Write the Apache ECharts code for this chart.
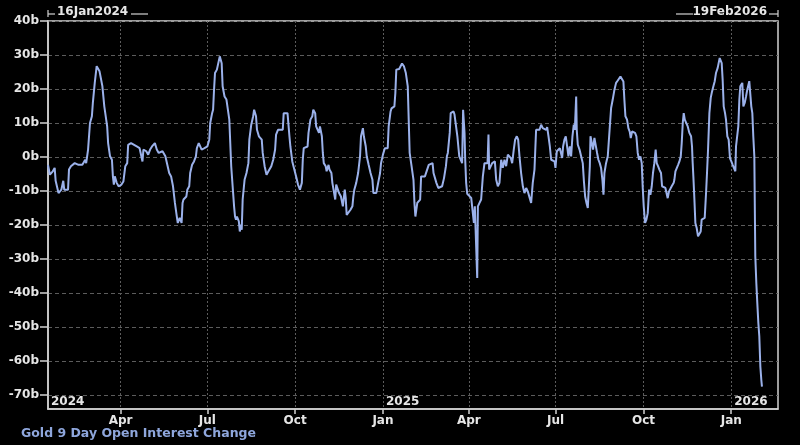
<!DOCTYPE html>
<html>
<head>
<meta charset="utf-8">
<script src="https://cdn.jsdelivr.net/npm/echarts@6/dist/echarts.min.js"></script>
<style>
html,body{margin:0;padding:0;background:#000;}
#c{width:800px;height:445px;}
</style>
</head>
<body>
<div id="c"></div>
<script>
const seriesName = 'Gold 9 Day Open Interest Change';
const startDate = '2024-01-16';
const endDate = '2026-02-19';
const startLabel = '16Jan2024';
const endLabel = '19Feb2026';

// days since 16 Jan 2024
const dayOffsets = [
0,2,5,7,8,11,13,14,16,17,19,21,22,24,28,32,36,39,40,42,44,46,47,49,51,53,54,55,57,59,60,62,63,65,67,68,69,70,72,74,77,79,81,83,84,87,89,93,96,99,100,103,105,107,109,112,114,116,118,120,122,123,125,127,129,
131,133,134,135,136,138,140,141,142,145,146,148,149,151,153,155,156,158,159,161,163,164,167,169,170,172,173,174,175,177,178,180,181,182,183,185,187,189,190,191,192,194,195,196,197,198,200,201,202,203,204,206,208,210,211,213,215,216,218,219,221,224,225,227,229,231,232,234,236,238,239,241,243,246,247,249,251,253,254,256,258,
260,262,264,266,267,268,270,272,273,275,277,278,280,281,282,284,285,287,288,289,291,292,294,295,297,298,300,301,302,303,305,306,307,309,311,312,313,315,317,319,320,321,323,325,327,328,330,331,333,334,336,338,340,341,344,346,348,349,351,353,356,357,359,360,363,364,365,368,370,371,373,375,377,378,379,381,383,384,385,387,388,390,391,393,
395,397,399,401,403,404,405,407,409,411,413,415,417,418,419,421,422,424,425,426,428,429,430,431,432,434,435,435.8,436.5,437.2,438.2,439.3,441,443.5,445.2,446.3,447.3,448.7,449.8,450.5,452.2,453.9,455.7,457.4,459.2,460.6,461.6,462.3,463.7,465.5,468.3,469.7,471.4,473.1,474.9,476.6,478.4,480.1,481.9,483.6,485,486.4,488.1,489.5,491.3,492.7,494.1,495.8,497.6,499.3,501.1,502.8,504.5,506.3,508,509.8,511.5,513.3,515,516.8,518.5,520.2,522,523.1,
524.5,525.9,527.3,529,530.8,531.8,533.2,535,536.4,537.7,538.8,539.8,541.2,542.6,544,545.4,546.8,548.2,549.6,551,552.1,553.5,554.1,555.2,557,558.7,560.4,561.5,562.9,564.3,565.7,566.7,567.8,568.5,569.8,571.2,572.6,574,575.4,576.8,578.2,579.6,581,582.1,583.1,584.8,586.6,588.3,590.1,591.8,593.6,595.3,597.1,598.8,599.9,601.6,603,604,605.1,606.8,608.2,609.6,610.7,612.1,613.8,615.2,616.6,618,619.4,620.8,622.2,623.2,624.3,625.7,627.1,628.5,629.9,631.3,632.7,634,635.4,636.8,637.9,639.3,640.7,642.4,643.5,645.2,647,648.4,649.4,650.8,652.2,653.6,655.7,
656.4,657.5,658.9,660.3,661.7,663.1,664.1,665.2,666.2,667.3,668.7,670.4,672.1,673.9,674.9,675.6,676.3,677.4,678.4,679.8,681.2,682.6,684,685,686.8,688.2,689.6,690.6,691.7,693.1,694.5,695.9,697.3,698.7,700,701.8,702.8,703.9,704.9,706,707,708.1,709.5,710.5,711.9,713.3,714.7,716.1,717.5,718.9,720.3,721,722.4,723.4,724.5,725.5,726.6,727.6,728.7,730.1,731.5,732.8,733.9,734.9,736,737,738.1,739.1,740.2,741.2,742.3,743.3,744.4,745.4,746.5,747.5,748.2
];
// billions
const oiChange = [
-2.3,-5.2,-4.2,-3.2,-7,-10.6,-11,-9.6,-7,-9.6,-9.1,-9.6,-3.7,-2.7,-1.8,-2.3,-2.3,-0.8,-1.8,2.2,10,12,15.9,21.8,26.7,26.2,25.2,25.7,20.8,14.9,15.4,9,4.1,0.2,-0.8,-5.7,-8.1,-5.7,-7.6,-8.6,-8.1,-7.2,-2.7,-1.8,3.6,4.1,3.6,3.1,2.6,-1.3,2.2,1.7,0.7,2.2,3.1,4.1,2.2,1.2,0.7,1.7,1.7,0.2,0.2,-4.7,-5.7,
-8.6,-13.5,-13.5,-17.5,-19.4,-17.9,-19.4,-13.5,-12.5,-11.6,-9.6,-8.6,-4.7,-2.3,-1.3,0.2,2.6,4.1,4.3,2.2,2.6,2.6,3.1,5.1,10,12.9,13.9,19.8,24.7,25.7,26.2,29.6,30.1,27.6,20.8,17.8,16.9,16.9,11,4.1,-2.7,-10.6,-14.5,-17.5,-18.4,-17.5,-18.9,-21.9,-19.9,-21.4,-12.5,-6.7,-4.7,-1.8,5.1,9.5,12,13.9,12,8,6.1,5.1,1.2,-2.7,-5.2,-4.2,-4.7,-2.7,-0.8,2.2,6.6,8,8,8,12.9,13.4,12.9,6.1,3.1,-1.3,-1.8,
-5.7,-8.1,-9.6,-7.6,-0.8,2.6,2.2,3.1,7.1,11,12,13.9,12.9,9,8.5,7.1,9,6.1,1.2,-1.8,-2.7,-4.2,-2.3,-3.7,-4.7,-7.6,-7.1,-12.5,-8.1,-8.6,-10.6,-10.6,-11.6,-14.5,-9.6,-12.1,-17,-17.5,-15.5,-14.5,-11.6,-9.6,-7.6,-4.7,0.2,6.1,8.5,6.1,3.1,0.2,-2.3,-4.7,-6.7,-10.6,-10.6,-7.6,-4.7,-1.8,0.7,2.6,2.6,9,13.4,14.3,14.9,18.8,25.7,25.9,25.9,27.5,26.7,24.7,20.8,11,1.2,-2.7,-6.7,-13.5,-17.5,-13.5,-13,-12.5,-5.7,-5.2,
-5.7,-5.2,-2.3,-1.8,-1.8,-4.7,-4.7,-7.6,-9.1,-9.6,-8.6,-6.2,-2.7,0.2,1.2,7.1,12.9,12.9,13.4,12.5,12.5,6.1,3.1,0.2,0.2,-1.8,13.9,13.9,7.1,-0.8,-7.6,-10.8,-11.3,-12,-12.5,-19.4,-14.5,-14.5,-35.6,-14.5,-13.5,-12.5,-5.7,-1.8,-1.3,-1.8,6.6,-3.7,-3.7,-1.8,-1.3,-6.7,-8.6,-7.6,-0.8,-3.2,-0.8,-2.7,0.7,1.2,-0.3,-1.8,2.2,5.1,6.1,5.1,0.2,-4.7,-8.6,-10.6,-9.1,-10.1,-10.6,-13.5,-7.6,-3.7,8,8.5,8,9.5,8.5,9,8,8.8,
6.1,3.1,-0.8,-1.3,-1.3,-3.2,1.7,2.2,2.6,3.1,-0.3,3.1,5.1,6.1,6.6,0.2,3.1,0.2,6.1,9.5,8,17.8,8,3.6,2.2,0.2,-1.8,-6.7,-11.6,-13.5,-15,-15,-2.7,6.1,5.6,2.2,5.6,5.1,1.2,-0.8,-1.8,-3.2,-6.7,-11.1,-4.7,-1.8,0.2,7.1,14.4,16.9,19.8,21.8,22.5,22.2,23.7,23.7,22.2,16.9,12,11,8.5,7.5,5.6,7.5,8,7.1,6.1,1.2,-0.8,0.2,-1.8,-8.8,-14.5,-19.4,-18.4,-16.5,-9.6,-11.1,-8.6,-4.7,-1.8,2.2,-1.8,-2.7,-3.7,-4.7,-8.6,-9.1,-9.1,-9.6,-12.1,-10.1,-10.1,-8.6,-7.6,
-6.7,-4.2,-4.2,-2.3,-1.3,0.2,4.1,10,12.9,11,10.5,9,7.1,6.1,3.1,-1.8,-5.7,-12.5,-19.4,-20.9,-23.3,-23.3,-21.9,-18.4,-17.9,-17.9,-10.6,-4.7,2.2,12.9,17.4,19.3,20.8,22.3,24.7,26.2,27.6,29.1,28.6,27.6,22.7,14.9,12.9,11,6.1,5.1,-0.4,-1.3,-2.3,-2.7,-4.2,3.1,3.6,9,16.9,20.8,21.3,21.8,14.9,15.9,17.8,19.8,20.3,22.3,21.8,14.9,12.9,6.1,0.2,-29.2,-37.1,-42.9,-48.8,-52.7,-61.6,-65.5,-67.5
];

const xTickDates = ['2024-04-01','2024-07-01','2024-10-01','2025-01-01','2025-04-01','2025-07-01','2025-10-01','2026-01-01'];
const xTickLabels = ['Apr','Jul','Oct','Jan','Apr','Jul','Oct','Jan'];
const yearLabelDates = ['2024-01-16','2025-01-01','2026-01-01'];
const yearLabels = ['2024','2025','2026'];
const yTicks = [40,30,20,10,0,-10,-20,-30,-40,-50,-60,-70];
const yMin = -74.1, yMax = 40;

const DAY = 86400000;
const t0 = Date.parse(startDate);
const t1 = Date.parse(endDate);
const data = dayOffsets.map((d, i) => [t0 + d * DAY, oiChange[i]]);
const xTicks = xTickDates.map(s => Date.parse(s));
const yearTicks = yearLabelDates.map(s => Date.parse(s));

const FONT = 'DejaVu Sans';
const lblColor = '#e6e6e6';
const gridColor = '#5c5c5c';
const frameColor = '#d2d2d2';
const lineColor = '#9bb1ea';

function findLabel(ticks, labels, v) {
  for (let i = 0; i < ticks.length; i++) if (Math.abs(ticks[i] - v) < 1000) return labels[i];
  return '';
}

const chart = echarts.init(document.getElementById('c'), null, {renderer: 'canvas'});
chart.setOption({
  backgroundColor: '#000',
  animation: false,
  grid: {left: 48, right: 22, top: 21, bottom: 36, show: true, borderColor: frameColor, borderWidth: 1.5, backgroundColor: 'transparent'},
  legend: {
    data: [seriesName], left: 16, top: 427, padding: 0, icon: 'none', itemWidth: 0, itemGap: 0,
    textStyle: {color: '#8ea6dc', fontFamily: FONT, fontWeight: 'bold', fontSize: 12.5, padding: 0},
    selectedMode: false
  },
  xAxis: [{
    type: 'value', min: t0, max: t1,
    axisLine: {show: true, onZero: false, lineStyle: {color: frameColor, width: 1.5}},
    axisTick: {show: true, length: 5, customValues: xTicks, lineStyle: {color: frameColor, width: 1.5}},
    splitLine: {show: true, lineStyle: {color: gridColor, type: [2, 2], width: 1}},
    axisLabel: {
      customValues: xTicks, margin: 6, color: lblColor, fontFamily: FONT, fontWeight: 'bold', fontSize: 12,
      formatter: v => findLabel(xTicks, xTickLabels, v)
    }
  }, {
    type: 'value', min: t0, max: t1, position: 'bottom',
    axisLine: {show: false, onZero: false}, axisTick: {show: false}, splitLine: {show: false},
    axisLabel: {
      inside: true, customValues: yearTicks, margin: 1, align: 'left', padding: [0, 0, 0, 3],
      color: lblColor, fontFamily: FONT, fontWeight: 'bold', fontSize: 12,
      formatter: v => findLabel(yearTicks, yearLabels, v)
    }
  }],
  yAxis: {
    type: 'value', min: yMin, max: yMax,
    axisLine: {show: true, onZero: false, lineStyle: {color: frameColor, width: 1.5}},
    axisTick: {show: true, length: 8, customValues: yTicks, lineStyle: {color: frameColor, width: 1.5}},
    splitLine: {show: true, lineStyle: {color: gridColor, type: [4, 3], width: 1}},
    axisLabel: {
      customValues: yTicks, margin: 9, color: lblColor, fontFamily: FONT, fontWeight: 'bold', fontSize: 12,
      formatter: v => v + 'b'
    }
  },
  series: [{
    name: seriesName, type: 'line', data: data, showSymbol: false, symbol: 'none',
    lineStyle: {color: lineColor, width: 2}, itemStyle: {color: lineColor}
  }],
  graphic: [
    {type: 'line', shape: {x1: 48, y1: 10, x2: 48, y2: 17}, style: {stroke: frameColor, lineWidth: 1.2}},
    {type: 'line', shape: {x1: 48, y1: 14, x2: 55, y2: 14}, style: {stroke: frameColor, lineWidth: 1.2}},
    {type: 'text', left: 57, top: 6, style: {text: startLabel, fill: lblColor, font: 'bold 12px "DejaVu Sans"'}},
    {type: 'line', shape: {x1: 131, y1: 14, x2: 148, y2: 14}, style: {stroke: frameColor, lineWidth: 1.2}},
    {type: 'line', shape: {x1: 676, y1: 14, x2: 693, y2: 14}, style: {stroke: frameColor, lineWidth: 1.2}},
    {type: 'text', right: 33, top: 6, style: {text: endLabel, fill: lblColor, font: 'bold 12px "DejaVu Sans"'}},
    {type: 'line', shape: {x1: 769, y1: 14, x2: 778, y2: 14}, style: {stroke: frameColor, lineWidth: 1.2}},
    {type: 'line', shape: {x1: 778, y1: 10, x2: 778, y2: 17}, style: {stroke: frameColor, lineWidth: 1.2}}
  ]
});
</script>
</body>
</html>
